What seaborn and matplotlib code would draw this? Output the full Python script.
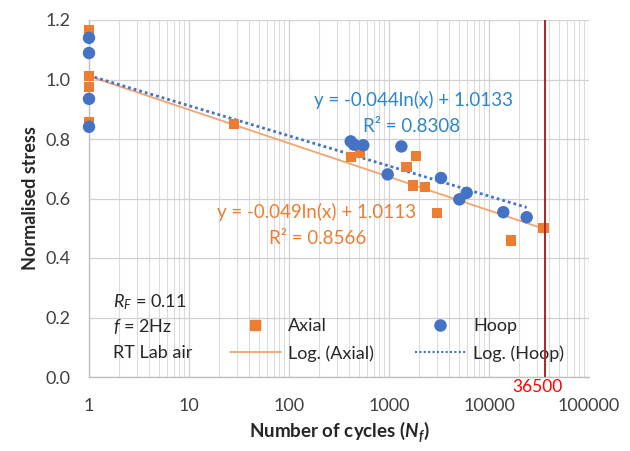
import numpy as np
import pandas as pd
import matplotlib
matplotlib.use("Agg")
import matplotlib.pyplot as plt
import seaborn as sns
from matplotlib.lines import Line2D

axial_cycles = [1, 1, 1, 1, 28, 414, 513, 1500, 1860, 1750, 2290, 3000, 16500, 35000]
axial_stress = [1.166, 1.012, 0.975, 0.858, 0.851, 0.739, 0.753, 0.705, 0.744, 0.644, 0.638, 0.552, 0.459, 0.501]
hoop_cycles = [1, 1, 1, 1, 414, 447, 553, 1330, 970, 3310, 5050, 5980, 13900, 23800]
hoop_stress = [1.14, 1.089, 0.935, 0.841, 0.792, 0.781, 0.779, 0.775, 0.681, 0.669, 0.597, 0.619, 0.554, 0.537]
axial_fit = (-0.049, 1.0113)
hoop_fit = (-0.044, 1.0133)
runout = 36500
x_ticks = [1, 10, 100, 1000, 10000, 100000]
y_ticks = [0.0, 0.2, 0.4, 0.6, 0.8, 1.0, 1.2]

ORANGE = "#ED7D31"
ORANGE_LINE = "#F4A46E"
BLUE = "#4472C4"
EQ_BLUE = "#2E86C8"

sns.set_theme(style="white")
plt.rcParams['font.family'] = ['Lato', 'DejaVu Sans']
plt.rcParams['mathtext.fontset'] = 'custom'
plt.rcParams['mathtext.it'] = 'Lato:italic'
plt.rcParams['mathtext.bf'] = 'Lato:bold'
plt.rcParams['mathtext.bfit'] = 'Lato:bold:italic'

W, H = 630, 451
L, R, T, B = 89, 589, 20, 377
fig = plt.figure(figsize=(W / 100, H / 100), dpi=100)
ax = fig.add_axes([L / W, 1 - B / H, (R - L) / W, (B - T) / H])

ax.set_xscale("log")
ax.set_xlim(1, 100000)
ax.set_ylim(0, 1.2)

ax.grid(True, which="major", color="#d0d0d0", lw=0.9)
ax.grid(True, which="minor", axis="x", color="#dcdcdc", lw=0.8)
ax.set_axisbelow(True)

df_a = pd.DataFrame({"N": axial_cycles, "S": axial_stress})
df_h = pd.DataFrame({"N": hoop_cycles, "S": hoop_stress})

xa = np.logspace(0, np.log10(max(axial_cycles)), 100)
xh = np.logspace(0, np.log10(max(hoop_cycles)), 100)
fa = pd.DataFrame({"N": xa, "S": axial_fit[0] * np.log(xa) + axial_fit[1]})
fh = pd.DataFrame({"N": xh, "S": hoop_fit[0] * np.log(xh) + hoop_fit[1]})

sns.lineplot(data=fa, x="N", y="S", ax=ax, color=ORANGE_LINE, lw=1.3, zorder=3)
sns.lineplot(data=fh, x="N", y="S", ax=ax, color=BLUE, lw=2.0, ls=(0, (1, 1.1)), zorder=3)
sns.scatterplot(data=df_a, x="N", y="S", ax=ax, marker="s", color=ORANGE, s=55, edgecolor="none", zorder=4, clip_on=False)
sns.scatterplot(data=df_h, x="N", y="S", ax=ax, marker="o", color=BLUE, s=80, edgecolor="none", zorder=5, clip_on=False)

ax.axvline(runout, color="#B22222", lw=1.4, zorder=6)


def px2data(px, py):
    lx = (px - L) / ((R - L) / 5)
    y = 1.2 - (py - T) * 1.2 / (B - T)
    return 10 ** lx, y


xd, yd = px2data(537, 387)
ax.text(xd, yd, str(runout), color="red", fontsize=12.5, ha="center", va="center", clip_on=False)

ax.set_xticks(x_ticks)
ax.set_xticklabels([str(t) for t in x_ticks])
ax.set_yticks(y_ticks)
ax.set_yticklabels([f"{t:.1f}" for t in y_ticks])
ax.tick_params(axis="both", labelsize=13, colors="#404040", length=0)
ax.tick_params(axis="y", pad=13)
ax.tick_params(axis="x", pad=15)

for s in ["top", "right"]:
    ax.spines[s].set_visible(False)
for s in ["left", "bottom"]:
    ax.spines[s].set_color("#bfbfbf")
    ax.spines[s].set_linewidth(1.0)

ax.set_xlabel(r"Number of cycles ($\mathbfit{N_f}$)", fontsize=13.5, fontweight="bold", labelpad=4, color="#262626")
ax.set_ylabel("Normalised stress", fontsize=13, fontweight="bold", labelpad=5, color="#262626")

for (px, py, s, c) in [(414, 100, "y = -0.044ln(x) + 1.0133", EQ_BLUE),
                       (412, 126, "R² = 0.8308", EQ_BLUE),
                       (317, 212, "y = -0.049ln(x) + 1.0113", ORANGE),
                       (318, 238, "R² = 0.8566", ORANGE)]:
    xd, yd = px2data(px, py)
    ax.text(xd, yd, s, color=c, fontsize=13.5, ha="center", va="center")

for (py, s) in [(302, r"$\mathit{R_F}$ = 0.11"), (327, r"$\mathit{f}$ = 2Hz"), (353, "RT Lab air")]:
    xd, yd = px2data(113, py)
    ax.text(xd, yd, s, color="#262626", fontsize=13, ha="left", va="center")

handles = [Line2D([], [], marker="s", color=ORANGE, ls="none", markersize=7),
           Line2D([], [], color=ORANGE_LINE, lw=1.3),
           Line2D([], [], marker="o", color=BLUE, ls="none", markersize=8),
           Line2D([], [], color=BLUE, lw=1.5, ls=(0, (1, 1.1)))]
labels = ["Axial", "Log. (Axial)", "Hoop", "Log. (Hoop)"]
leg = ax.legend(handles, labels, ncol=2, loc="center left",
                bbox_to_anchor=((230 - L) / (R - L), (B - 340) / (B - T)),
                frameon=False, fontsize=13, handlelength=2.8, columnspacing=2.3,
                labelspacing=0.6, handletextpad=0.4, borderpad=0, borderaxespad=0)
for t in leg.get_texts():
    t.set_color("#262626")

fig.savefig("out.png", dpi=100)
